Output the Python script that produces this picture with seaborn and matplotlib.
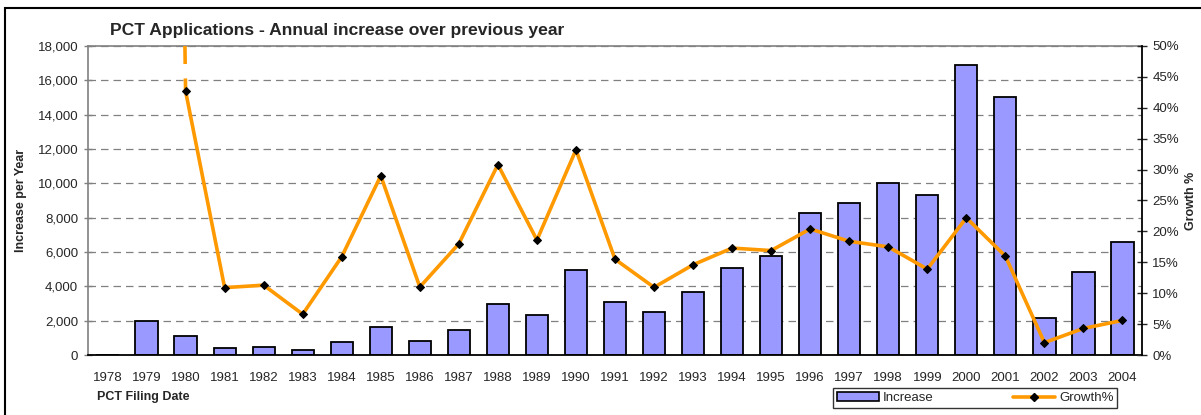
import numpy as np
import pandas as pd
import matplotlib
matplotlib.use("Agg")
import matplotlib.pyplot as plt
from matplotlib.patches import Rectangle, Patch
from matplotlib.lines import Line2D
from matplotlib.ticker import FuncFormatter, FixedLocator
import seaborn as sns

# ── data ──────────────────────────────────────────────
years = [str(y) for y in range(1978, 2005)]
increase = [0, 2000, 1100, 400, 470, 300, 760, 1630, 800, 1450,
            2950, 2310, 4930, 3070, 2490, 3690, 5050, 5770, 8270, 8850,
            10020, 9320, 16890, 15030, 2140, 4830, 6580]
growth = [np.nan, 472.0, 42.7, 10.9, 11.3, 6.6, 15.9, 29.0, 11.0, 18.0,
          30.8, 18.6, 33.2, 15.5, 10.95, 14.6, 17.3, 16.9, 20.4, 18.4,
          17.5, 13.9, 22.2, 16.0, 2.0, 4.3, 5.6]

df = pd.DataFrame({"year": years, "increase": increase, "growth": growth})
df["pos"] = np.arange(len(df))

sns.set_style("white")
plt.rcParams["font.family"] = ["Liberation Sans", "DejaVu Sans"]

BAR = "#9999FF"
ORANGE = "#FF9900"

fig = plt.figure(figsize=(12.01, 4.15), dpi=100)
ax = fig.add_axes([88 / 1201, 60 / 415, (1142 - 88) / 1201, (355 - 46) / 415])

# ── bars: annual increase ─────────────────────────────
sns.barplot(data=df, x="pos", y="increase", color=BAR, edgecolor="black",
            linewidth=1.3, width=0.57, saturation=1, native_scale=True, ax=ax)
ax.set_ylim(0, 18000)
ax.set_xlim(-0.5, len(df) - 0.5)
ax.yaxis.set_major_locator(FixedLocator(np.arange(0, 18001, 2000)))
ax.yaxis.set_major_formatter(FuncFormatter(lambda v, p: f"{int(v):,}"))
ax.grid(axis="y", color="#808080", linestyle=(0, (6, 4)), linewidth=0.9)
ax.set_axisbelow(True)
ax.set_xticks(df["pos"])
ax.set_xticklabels(df["year"])
ax.set_xticks(np.arange(-0.5, len(df), 1), minor=True)
ax.tick_params(axis="x", which="major", length=0, pad=12, labelsize=9.5)
ax.tick_params(axis="x", which="minor", direction="inout", length=8, width=1)
ax.tick_params(axis="y", direction="inout", length=6, width=1, color="#808080",
               pad=4, labelsize=9.5)
ax.set_xlabel("")
ax.set_ylabel("Increase per Year", fontsize=9, fontweight="bold", labelpad=8)
for s in ["left", "top"]:
    ax.spines[s].set_color("#808080")
    ax.spines[s].set_linewidth(1.2)
ax.spines["bottom"].set_color("black")
ax.spines["bottom"].set_linewidth(1.3)
ax.spines["right"].set_visible(False)

# ── line: growth % ────────────────────────────────────
ax2 = ax.twinx()
ax2.set_ylim(0, 50)
main = df[df["pos"] >= 2]
lead = df[(df["pos"] >= 1) & (df["pos"] <= 2)]
sns.lineplot(data=lead, x="pos", y="growth", color=ORANGE, linewidth=2.6,
             linestyle=(0, (7, 4)), ax=ax2)
sns.lineplot(data=main, x="pos", y="growth", color=ORANGE, linewidth=2.6,
             marker="D", markersize=4.5, markerfacecolor="black",
             markeredgecolor="black", ax=ax2)
ax2.set_xlim(-0.5, len(df) - 0.5)
ax2.yaxis.set_major_locator(FixedLocator(np.arange(0, 51, 5)))
ax2.yaxis.set_major_formatter(FuncFormatter(lambda v, p: f"{int(v)}%"))
ax2.tick_params(axis="y", direction="inout", length=7, width=1, pad=4, labelsize=9.5)
ax2.set_ylabel("Growth %", fontsize=9, fontweight="bold", rotation=90, labelpad=4)
ax2.set_xlabel("")
for s in ["left", "top", "bottom"]:
    ax2.spines[s].set_visible(False)
ax2.spines["right"].set_color("black")
ax2.spines["right"].set_linewidth(1.3)
ax2.grid(False)

fig.text(110 / 1201, 1 - 31 / 415, "PCT Applications - Annual increase over previous year",
         fontsize=12.6, fontweight="bold", va="center", ha="left")
fig.text(97 / 1201, 1 - 397 / 415, "PCT Filing Date", fontsize=9, fontweight="bold",
         va="center", ha="left")

handles = [Patch(facecolor=BAR, edgecolor="black", linewidth=1.2),
           Line2D([], [], color=ORANGE, linewidth=2.6, marker="D", markersize=4.5,
                  markerfacecolor="black", markeredgecolor="black")]
leg = fig.legend(handles, ["Increase", "Growth%"], ncol=2,
                 loc="center", bbox_to_anchor=(975 / 1201, 1 - 398 / 415),
                 frameon=True, fancybox=False, fontsize=9.5, columnspacing=6,
                 handlelength=3.2, handletextpad=0.3, borderpad=0.3)
leg.get_frame().set_edgecolor("black")
leg.get_frame().set_linewidth(1.0)

# outer chart-area frame (cropped at right and bottom)
fig.patches.append(Rectangle((5 / 1201, -0.1), 1.2, 1.1 - 8 / 415,
                             transform=fig.transFigure, fill=False,
                             edgecolor="black", linewidth=1.5))

fig.savefig("out.png", dpi=100)
